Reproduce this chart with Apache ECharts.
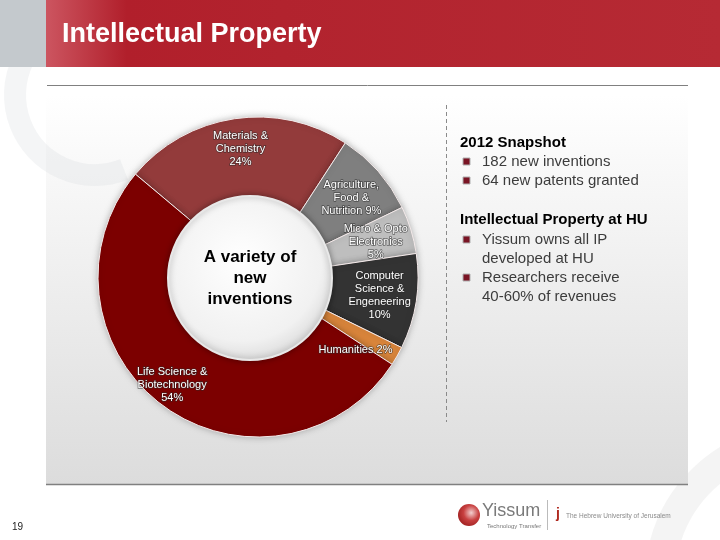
<!DOCTYPE html>
<html>
<head>
<meta charset="utf-8">
<script src="https://cdn.jsdelivr.net/npm/echarts@6/dist/echarts.min.js"></script>
<style>
  html, body { margin: 0; padding: 0; background: #fff; }
  #chart { width: 720px; height: 540px; }
</style>
</head>
<body>
<div id="chart"></div>
<script>
// slice names, in clockwise order from the top-left
const categories = [
  'Materials &\nChemistry',
  'Agriculture,\nFood &\nNutrition',
  'Micro & Opto\nElectronics',
  'Computer\nScience &\nEngeneering',
  'Humanities',
  'Life Science &\nBiotechnology'
]
// share of new inventions, %
const shares = [24, 9, 5, 10, 2, 54]
// how the % is joined to the name in each label
const joiners = ['\n', ' ', '\n', '\n', ' ', '\n']
const sliceColors = ['#933b3b', '#7f7f7f', '#bebebe', '#333333', '#d9853b', '#7c0000']

const snapshotItems = ['182 new inventions', '64 new patents granted']
const ipItems = [['Yissum owns all IP', 'developed at HU'], ['Researchers receive', '40-60% of revenues']]

const chart = echarts.init(document.getElementById('chart'))

const FONT = '"Liberation Sans", Arial, sans-serif'
const cx = 258, cy = 277

// right-hand text block
const textEls = []
const bullet = (y) => ({
  type: 'rect', shape: {x: 463, y: y - 4, width: 7, height: 7},
  style: {fill: '#7a1424', stroke: '#b0b0b0', lineWidth: 1}, z: 10
})
const line = (txt, x, y, bold, color) => ({
  type: 'text', z: 10,
  style: {text: txt, x: x, y: y, fill: color, font: (bold ? 'bold ' : '') + '15px ' + FONT, textVerticalAlign: 'middle'}
})
textEls.push(line('2012 Snapshot', 460, 143, true, '#000'))
snapshotItems.forEach((t, i) => {
  textEls.push(bullet(162 + i * 19))
  textEls.push(line(t, 482, 162 + i * 19, false, '#3c3c3c'))
})
textEls.push(line('Intellectual Property at HU', 460, 220, true, '#000'))
let yy = 240
ipItems.forEach(item => {
  textEls.push(bullet(yy))
  item.forEach(t => {
    textEls.push(line(t, 482, yy, false, '#3c3c3c'))
    yy += 19
  })
})

const option = {
  animation: false,
  graphic: [
    // panel background
    {type: 'rect', z: -10, shape: {x: 46, y: 95, width: 642, height: 390},
      style: {fill: new echarts.graphic.LinearGradient(0, 0, 0, 1, [
        {offset: 0, color: '#ffffff'}, {offset: 1, color: '#dcdcdc'}])}},
    // faint background swirls
    {type: 'arc', z: -9, shape: {cx: 95, cy: 95, r: 80, startAngle: 1.2, endAngle: 3.6},
      style: {stroke: 'rgba(210,214,218,0.25)', lineWidth: 22, fill: null}},
    {type: 'arc', z: -11, shape: {cx: 800, cy: 580, r: 140, startAngle: 3.3, endAngle: 4.6},
      style: {stroke: 'rgba(205,205,205,0.22)', lineWidth: 30, fill: null}},
    // header
    {type: 'rect', z: 1, shape: {x: 0, y: 0, width: 46, height: 67}, style: {fill: '#c4c9cd'}},
    {type: 'rect', z: 1, shape: {x: 46, y: 0, width: 674, height: 67},
      style: {fill: new echarts.graphic.LinearGradient(0, 0, 1, 0, [
        {offset: 0, color: '#cc5560'}, {offset: 0.12, color: '#b11f2b'},
        {offset: 0.35, color: '#b2232e'}, {offset: 1, color: '#b62a34'}])}},
    {type: 'text', z: 2, style: {text: 'Intellectual Property', x: 62, y: 35, fill: '#fff',
      font: 'bold 27px ' + FONT, textVerticalAlign: 'middle'}},
    // rules
    {type: 'line', z: 2, shape: {x1: 47, y1: 85.5, x2: 688, y2: 85.5}, style: {stroke: '#808080', lineWidth: 1}},
    {type: 'line', z: 2, shape: {x1: 46, y1: 484.5, x2: 688, y2: 484.5}, style: {stroke: '#808080', lineWidth: 1.5}},
    {type: 'line', z: 2, shape: {x1: 446.5, y1: 105, x2: 446.5, y2: 422},
      style: {stroke: '#8a8a8a', lineWidth: 1, lineDash: [4, 3]}},
    // centre disc
    {type: 'circle', z: 5, shape: {cx: cx - 8, cy: cy + 1, r: 82},
      style: {fill: new echarts.graphic.RadialGradient(0.45, 0.4, 0.6, [
        {offset: 0, color: '#ffffff'}, {offset: 0.8, color: '#f1f1f1'}, {offset: 1, color: '#dedede'}]),
        stroke: '#e8e8e8', lineWidth: 2, shadowBlur: 6, shadowColor: 'rgba(0,0,0,0.35)'}},
    {type: 'text', z: 6, style: {text: 'A variety of\nnew\ninventions', x: cx - 8, y: 278,
      fill: '#000', font: 'bold 17px ' + FONT, textAlign: 'center', textVerticalAlign: 'middle', lineHeight: 21}},
    // footer
    {type: 'text', z: 2, style: {text: '19', x: 12, y: 527, fill: '#222', font: '10px ' + FONT, textVerticalAlign: 'middle'}},
    {type: 'circle', z: 2, shape: {cx: 469, cy: 515, r: 11},
      style: {fill: new echarts.graphic.RadialGradient(0.6, 0.4, 0.7, [
        {offset: 0, color: '#f3d0d0'}, {offset: 0.5, color: '#c84040'}, {offset: 1, color: '#9a1c1c'}])}},
    {type: 'text', z: 2, style: {text: 'Yissum', x: 482, y: 511, fill: '#7a7a7a', font: '18px ' + FONT, textVerticalAlign: 'middle'}},
    {type: 'text', z: 2, style: {text: 'Technology Transfer', x: 487, y: 526, fill: '#777', font: '6px ' + FONT, textVerticalAlign: 'middle'}},
    {type: 'line', z: 2, shape: {x1: 547.5, y1: 500, x2: 547.5, y2: 530}, style: {stroke: '#bbb', lineWidth: 1}},
    {type: 'text', z: 2, style: {text: 'j', x: 556, y: 514, fill: '#b02a20', font: 'bold 14px ' + FONT, textVerticalAlign: 'middle'}},
    {type: 'text', z: 2, style: {text: 'The Hebrew University of Jerusalem', x: 566, y: 516, fill: '#8a8a8a', font: '6.5px ' + FONT, textVerticalAlign: 'middle'}}
  ].concat(textEls),
  series: [{
    type: 'pie',
    center: [cx, cy],
    radius: [72, 160],
    startAngle: 140,
    clockwise: true,
    z: 3,
    itemStyle: {borderColor: '#f4eaea', borderWidth: 1, shadowBlur: 6, shadowColor: 'rgba(0,0,0,0.25)'},
    label: {
      position: 'inside',
      color: '#fff',
      fontFamily: FONT,
      fontSize: 11,
      lineHeight: 13,
      textBorderColor: 'rgba(40,40,40,0.6)',
      textBorderWidth: 1.5,
      formatter: p => p.name + joiners[p.dataIndex] + p.value + '%'
    },
    labelLine: {show: false},
    emphasis: {disabled: true},
    data: categories.map((c, i) => {
      const d = {name: c, value: shares[i], itemStyle: {color: sliceColors[i]}}
      if (c === 'Humanities') d.label = {offset: [-6, 14]}
      else if (c.startsWith('Materials')) d.label = {offset: [0, -10]}
      else if (c.startsWith('Life')) d.label = {offset: [-15, 12]}
      else d.label = {offset: [4, 0]}
      return d
    })
  }]
}

chart.setOption(option)
</script>
</body>
</html>
